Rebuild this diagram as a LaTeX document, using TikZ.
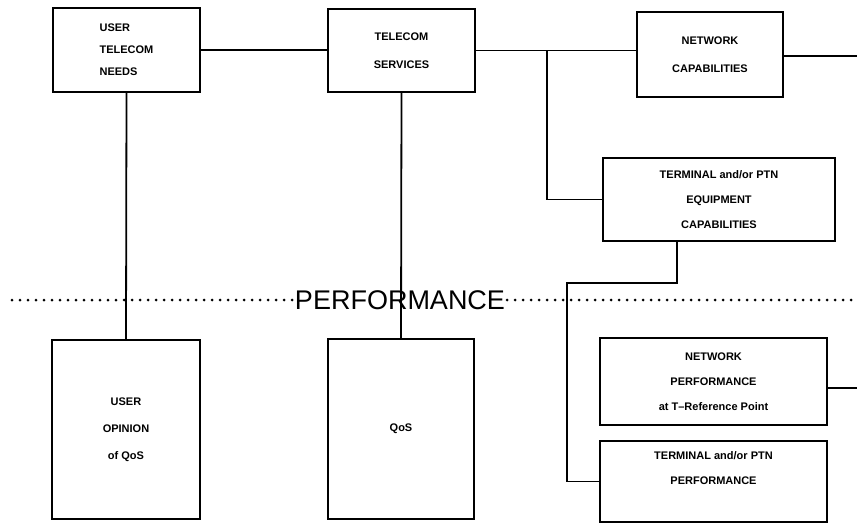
\documentclass[tikz,border=0pt]{standalone}
\usepackage{fontspec}
\setsansfont{Liberation Sans}
\usepackage{tikz}
\usetikzlibrary{positioning,calc}

\begin{document}
\begin{tikzpicture}[x=1pt, y=-1pt,
  box/.style={draw, line width=1.8pt, inner sep=0pt, align=center,
    font=\sffamily\bfseries\fontsize{11}{25}\selectfont},
  link/.style={line width=1.8pt},
  perfline/.style={line width=3pt, line cap=round, dash pattern=on 0pt off 8pt},
]
\useasboundingbox (0,0) rectangle (857,524);

% === Capabilities (top row) ===
\node[box, align=left, minimum width=147pt, minimum height=84pt,
  font=\sffamily\bfseries\fontsize{11}{22}\selectfont] (needs) at (126.5,50) {USER\\TELECOM\\NEEDS};
\node[box, minimum width=147pt, minimum height=83pt,
  font=\sffamily\bfseries\fontsize{11}{28}\selectfont] (services) at (401.5,50.5) {TELECOM\\SERVICES};
\node[box, minimum width=146pt, minimum height=85pt,
  font=\sffamily\bfseries\fontsize{11}{28}\selectfont] (netcaps) at (710,54.5) {NETWORK\\CAPABILITIES};
\node[box, minimum width=232pt, minimum height=83pt] (equip) at (719,199.5)
  {TERMINAL and/or PTN\\EQUIPMENT\\CAPABILITIES};

% === Performance divider ===
\node[font=\sffamily\fontsize{27}{27}\selectfont, inner sep=2pt] (perf) at (400,300) {PERFORMANCE};
\coordinate (divl) at (12,300);
\coordinate (divr) at (852,300);
\draw[perfline] (divl) -- (perf.west);
\draw[perfline] (perf.east) -- (divr);

% === Performance (bottom row) ===
\node[box, minimum width=148pt, minimum height=179pt,
  font=\sffamily\bfseries\fontsize{11}{27}\selectfont] (opinion) at (126,429.5) {USER\\OPINION\\of QoS};
\node[box, minimum width=146pt, minimum height=180pt] (qos) at (401,429) {QoS};
\node[box, minimum width=227pt, minimum height=87pt] (netperf) at (713.5,381.5)
  {NETWORK\\PERFORMANCE\\at T--Reference Point};
\node[box, minimum width=227pt, minimum height=81pt] (termperf) at (713.5,481.5)
  {TERMINAL and/or PTN\\PERFORMANCE\\[2pt]~};

% === Connectors ===
\coordinate (capsout) at (857,56);
\coordinate (perfout) at (857,388);
\draw[link] (needs.east) -- (needs.east -| services.west);
\draw[link] (services.east) -- (services.east -| netcaps.west);
\draw[link] (netcaps.east |- capsout) -- (capsout);
\draw[link] ([xshift=71pt]services.east) |- (equip.west);
\draw[link] (needs.south) -- (opinion.north);
\draw[link] (services.south) -- (qos.north);
\draw[link] ([xshift=-42pt]equip.south) -- ++(0,41) -- ++(-110,0) |- (termperf.west);
\draw[link] (netperf.east |- perfout) -- (perfout);

\end{tikzpicture}
\end{document}
